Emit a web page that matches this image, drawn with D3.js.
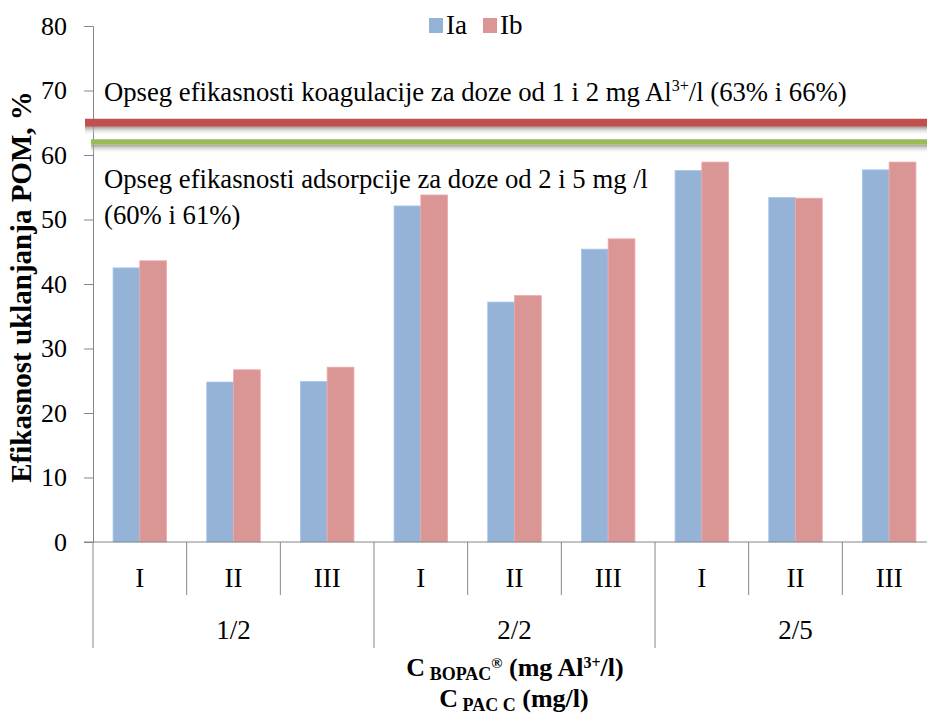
<!DOCTYPE html>
<html>
<head>
<meta charset="utf-8">
<script src="https://cdn.jsdelivr.net/npm/d3@7"></script>
<style>
  html, body { margin: 0; padding: 0; background: #fff; }
  svg { display: block; font-family: "Liberation Serif", "Times New Roman", serif; }
</style>
</head>
<body>
<svg id="chart" width="927" height="718"></svg>
<script>
// Removal efficiency of POM by dose combination
const doseGroups = ["1/2", "2/2", "2/5"];
const subLabels = ["I", "II", "III"];
const seriesNames = ["Ia", "Ib"];
const seriesIa = [42.5, 24.8, 24.9, 52.1, 37.2, 45.4, 57.6, 53.4, 57.7];
const seriesIb = [43.6, 26.7, 27.1, 53.8, 38.2, 47.0, 58.9, 53.3, 58.9];
const yTicks = [0, 10, 20, 30, 40, 50, 60, 70, 80];
// reference ranges (coagulation, adsorption)
const refLevels = [65.0, 62.0];

const colors = { Ia: "#95b3d7", Ib: "#d99694" };
const refColors = ["#c0504d", "#9bbb59"];
const axisColor = "#868686";
const FONT = "Liberation Serif, Times New Roman, serif";

const svg = d3.select("#chart");
const plotLeft = 93, plotRight = 936, plotTop = 26, plotBottom = 542;

const categories = d3.range(doseGroups.length * subLabels.length);
const x = d3.scaleBand().domain(categories).range([plotLeft, plotRight]).padding(0);
const xs = d3.scaleBand().domain(seriesNames).range([0, x.bandwidth()])
  .paddingInner(0).paddingOuter(0.75);
const y = d3.scaleLinear().domain([0, 80]).range([plotBottom, plotTop]);

const defs = svg.append("defs");
const grad = defs.append("linearGradient").attr("id", "shadow")
  .attr("x1", 0).attr("y1", 0).attr("x2", 0).attr("y2", 1);
grad.append("stop").attr("offset", "0%").attr("stop-color", "#8f8f8f").attr("stop-opacity", 0.85);
grad.append("stop").attr("offset", "100%").attr("stop-color", "#ffffff").attr("stop-opacity", 0);

// y axis
const yAxis = svg.append("g").attr("transform", `translate(${plotLeft},0)`)
  .call(d3.axisLeft(y).tickValues(yTicks).tickSize(9).tickPadding(17));
yAxis.attr("font-family", FONT);
yAxis.select(".domain").attr("stroke", axisColor);
yAxis.selectAll(".tick line").attr("stroke", axisColor);
yAxis.selectAll(".tick text").attr("fill", "#000")
  .style("font-family", FONT).style("font-size", "26px");
yAxis.selectAll(".tick").filter(d => d === 0).select("line").remove();

// bars
const data = categories.map(i => ({ i, Ia: seriesIa[i], Ib: seriesIb[i] }));
const groups = svg.append("g").selectAll("g").data(data).join("g")
  .attr("transform", d => `translate(${x(d.i)},0)`);
groups.selectAll("rect").data(d => seriesNames.map(k => ({ k, v: d[k] }))).join("rect")
  .attr("x", d => xs(d.k))
  .attr("width", xs.bandwidth())
  .attr("y", d => y(d.v))
  .attr("height", d => y(0) - y(d.v))
  .attr("fill", d => colors[d.k])
  .attr("stroke", d => d3.color(colors[d.k]).brighter(0.3))
  .attr("stroke-width", 0.8);

// reference lines with soft shadow
const refStarts = [85, 91];
const refWidths = [8, 5.5];
refLevels.forEach((v, i) => {
  svg.append("rect")
    .attr("x", refStarts[i]).attr("width", 927 - refStarts[i])
    .attr("y", y(v) + refWidths[i] / 2).attr("height", 9)
    .attr("fill", "url(#shadow)");
  svg.append("line")
    .attr("x1", refStarts[i]).attr("x2", 927)
    .attr("y1", y(v)).attr("y2", y(v))
    .attr("stroke", refColors[i]).attr("stroke-width", refWidths[i]);
});

// x axis line
svg.append("line").attr("x1", 84).attr("x2", 927)
  .attr("y1", plotBottom).attr("y2", plotBottom).attr("stroke", axisColor);

// category dividers
const bounds = d3.range(categories.length + 1).map(i => plotLeft + i * x.step());
svg.append("g").selectAll("line").data(bounds).join("line")
  .attr("x1", d => d).attr("x2", d => d)
  .attr("y1", plotBottom)
  .attr("y2", (d, i) => i % 3 === 0 ? 648 : 595)
  .attr("stroke", axisColor);

// sub labels
svg.append("g").selectAll("text").data(categories).join("text")
  .attr("x", d => x(d) + x.bandwidth() / 2)
  .attr("y", 587)
  .attr("text-anchor", "middle")
  .style("font-size", "27px")
  .text(d => subLabels[d % 3]);

// group labels
svg.append("g").selectAll("text").data(doseGroups).join("text")
  .attr("x", (d, i) => plotLeft + (i * 3 + 1.5) * x.step())
  .attr("y", 639)
  .attr("text-anchor", "middle")
  .style("font-size", "27px")
  .text(d => d);

// y title
svg.append("text")
  .attr("transform", "translate(31,287) rotate(-90)")
  .attr("text-anchor", "middle")
  .style("font-size", "29px").style("font-weight", "bold")
  .text("Efikasnost uklanjanja POM, %");

// x title
const t1 = svg.append("text").attr("x", 515).attr("y", 676).attr("text-anchor", "middle")
  .style("font-size", "26px").style("font-weight", "bold");
t1.append("tspan").text("C");
t1.append("tspan").attr("dy", 4).style("font-size", "18px").text(" BOPAC");
t1.append("tspan").attr("dy", -12).style("font-size", "15px").text("®");
t1.append("tspan").attr("dy", 8).text(" (mg Al");
t1.append("tspan").attr("dy", -8).style("font-size", "16px").text("3+");
t1.append("tspan").attr("dy", 8).text("/l)");

const t2 = svg.append("text").attr("x", 514).attr("y", 707).attr("text-anchor", "middle")
  .style("font-size", "26px").style("font-weight", "bold");
t2.append("tspan").text("C");
t2.append("tspan").attr("dy", 4).style("font-size", "18px").text(" PAC C");
t2.append("tspan").attr("dy", -4).text(" (mg/l)");

// annotations
const a1 = svg.append("text").attr("x", 104).attr("y", 101).style("font-size", "26.7px");
a1.append("tspan").text("Opseg efikasnosti koagulacije za doze od 1 i 2 mg Al");
a1.append("tspan").attr("dy", -10).style("font-size", "16px").text("3+");
a1.append("tspan").attr("dy", 10).text("/l (63% i 66%)");

svg.append("text").attr("x", 104).attr("y", 188).style("font-size", "26.7px")
  .text("Opseg efikasnosti adsorpcije za doze od 2 i 5 mg /l");
svg.append("text").attr("x", 104).attr("y", 224).style("font-size", "26.7px")
  .text("(60% i 61%)");

// legend
const legend = svg.append("g");
const legX = [429, 483];
seriesNames.forEach((s, i) => {
  legend.append("rect").attr("x", legX[i]).attr("y", 18).attr("width", 14).attr("height", 15)
    .attr("fill", colors[s]);
  legend.append("text").attr("x", legX[i] + 17).attr("y", 34)
    .style("font-size", "27px").text(s);
});
</script>
</body>
</html>
